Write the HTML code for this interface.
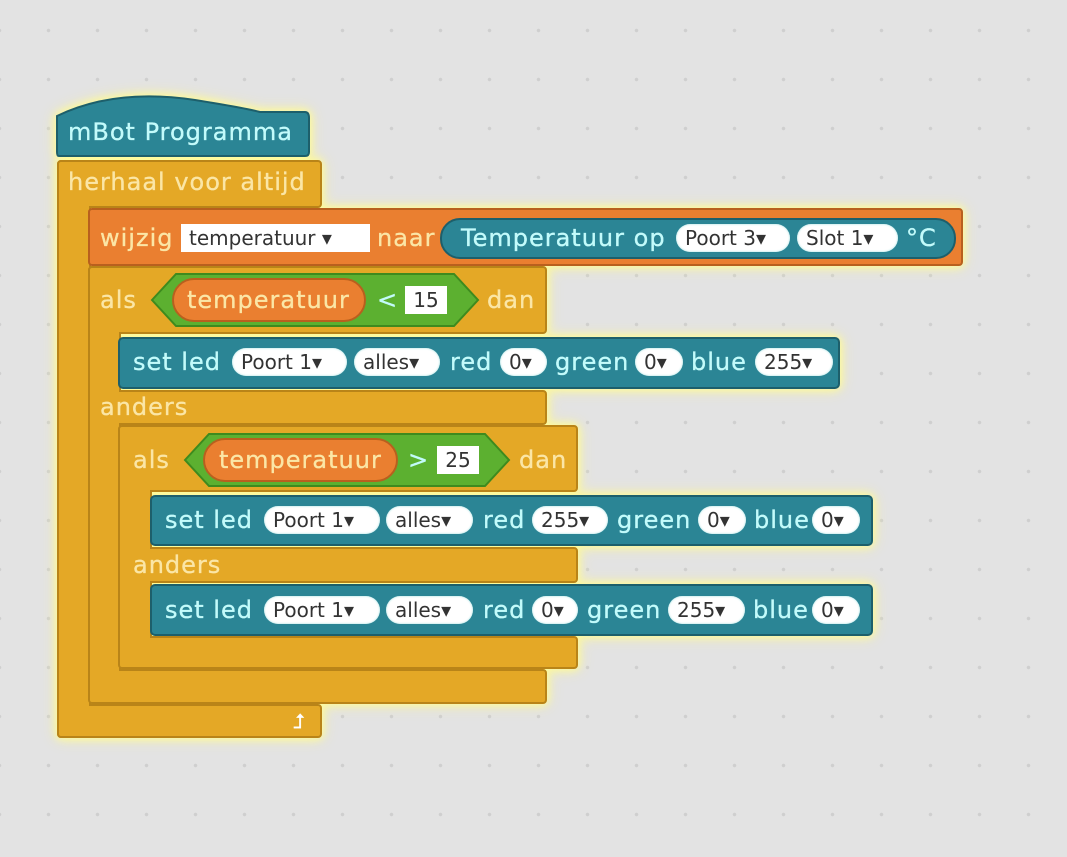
<!DOCTYPE html>
<html><head><meta charset="utf-8"><style>
*{margin:0;padding:0;box-sizing:border-box}
body{width:1067px;height:857px;overflow:hidden;background:#e3e3e3;font-family:"DejaVu Sans","Liberation Sans",sans-serif;position:relative}
.bg{position:absolute;inset:0;background-image:radial-gradient(circle,#cfcfcf 1.5px,transparent 2px);background-size:49px 49px;background-position:24px 6px}
.wrap{position:absolute;left:0;top:0;width:1067px;height:857px;filter:drop-shadow(0 0 4px #fffd9a) drop-shadow(0 0 6px #f8f2a0)}
.b{position:absolute}
.y{background:#e4a826;border:2px solid #b98418;border-radius:4px}
.o{background:#ea7f30;border:2px solid #b8601e;border-radius:4px}
.bl{background:#2b8595;border:2px solid #1d5f6b;border-radius:5px}
.t{position:absolute;font-size:24px;line-height:26px;white-space:nowrap;letter-spacing:1px;-webkit-text-stroke:0.3px currentColor}
.ty{color:#fbe6a6}
.tb{color:#c3fbfb}
.pill{position:absolute;background:#fff;border-radius:14px;color:#333;font-size:20px;line-height:28px;height:28px;padding-left:9px;white-space:nowrap;box-shadow:inset 0 0 2px #9dd;overflow:hidden}
.box{position:absolute;background:#fff;color:#333;font-size:20px;text-align:center;height:28px;line-height:28px;white-space:nowrap;overflow:hidden}
</style></head><body>
<div class="bg"></div>
<div class="wrap">
<div class="b y" style="left:57px;top:160px;width:34px;height:578px"></div>
<div class="b y" style="left:88px;top:266px;width:33px;height:438px"></div>
<div class="b y" style="left:118px;top:425px;width:34px;height:244px"></div>
<svg class="b" style="left:55px;top:94px" width="256" height="66"><path d="M2 22 Q60 -6 140 6 Q190 14 205 18 L250 18 Q254 18 254 24 L254 58 Q254 62 250 62 L4 62 Q2 62 2 58 Z" fill="#2b8595" stroke="#1d5f6b" stroke-width="2"/></svg>
<div class="t tb" style="left:68px;top:119px">mBot Programma</div>
<div class="b y" style="left:57px;top:160px;width:265px;height:48px;border-bottom-left-radius:0"></div>
<div class="b y" style="left:57px;top:704px;width:265px;height:34px"></div>
<div class="b" style="left:59px;top:200px;width:30px;height:10px;background:#e4a826"></div>
<div class="b" style="left:59px;top:700px;width:30px;height:8px;background:#e4a826"></div>
<div class="t ty" style="left:68px;top:169px">herhaal voor altijd</div>
<div class="t" style="left:293px;top:708px;color:#fff;font-size:20px">⮥</div>
<div class="b y" style="left:88px;top:266px;width:459px;height:68px"></div>
<div class="b y" style="left:88px;top:390px;width:459px;height:35px"></div>
<div class="b y" style="left:88px;top:669px;width:459px;height:35px"></div>
<div class="b" style="left:90px;top:325px;width:29px;height:14px;background:#e4a826"></div>
<div class="b" style="left:90px;top:385px;width:29px;height:44px;background:#e4a826"></div>
<div class="b" style="left:90px;top:664px;width:29px;height:10px;background:#e4a826"></div>
<div class="b y" style="left:118px;top:425px;width:460px;height:67px"></div>
<div class="b y" style="left:118px;top:547px;width:460px;height:36px"></div>
<div class="b y" style="left:118px;top:636px;width:460px;height:33px"></div>
<div class="b" style="left:120px;top:484px;width:30px;height:14px;background:#e4a826"></div>
<div class="b" style="left:120px;top:542px;width:30px;height:46px;background:#e4a826"></div>
<div class="b" style="left:120px;top:632px;width:30px;height:8px;background:#e4a826"></div>
<div class="b o" style="left:88px;top:208px;width:875px;height:58px"></div>
<div class="t ty" style="left:100px;top:225px">wijzig</div>
<div class="box" style="left:181px;top:224px;width:189px;text-align:left;padding-left:8px">temperatuur ▾</div>
<div class="t ty" style="left:377px;top:225px">naar</div>
<div class="b" style="left:440px;top:218px;width:516px;height:41px;background:#2b8595;border:2px solid #1d5f6b;border-radius:20px"></div>
<div class="t tb" style="left:461px;top:225px">Temperatuur op</div>
<div class="pill" style="left:676px;top:224px;width:114px">Poort 3▾</div>
<div class="pill" style="left:797px;top:224px;width:101px">Slot 1▾</div>
<div class="t tb" style="left:906px;top:225px">°C</div>
<div class="t ty" style="left:100px;top:287px">als</div>
<svg class="b" style="left:150px;top:272px" width="330" height="56"><polygon points="2,28 26,2 304,2 328,28 304,54 26,54" fill="#5cb030" stroke="#3e8a1e" stroke-width="2"/></svg>
<div class="b" style="left:172px;top:278px;width:194px;height:44px;background:#ea7f30;border:2px solid #b8601e;border-radius:22px"></div>
<div class="t ty" style="left:187px;top:287px">temperatuur</div>
<div class="t tb" style="left:377px;top:287px">&lt;</div>
<div class="box" style="left:405px;top:286px;width:42px">15</div>
<div class="t ty" style="left:487px;top:287px">dan</div>
<div class="b bl" style="left:118px;top:337px;width:722px;height:52px"></div>
<div class="t tb" style="left:133px;top:349px">set led</div>
<div class="pill" style="left:232px;top:348px;width:115px">Poort 1▾</div>
<div class="pill" style="left:354px;top:348px;width:86px">alles▾</div>
<div class="t tb" style="left:450px;top:349px">red</div>
<div class="pill" style="left:500px;top:348px;width:47px">0▾</div>
<div class="t tb" style="left:555px;top:349px">green</div>
<div class="pill" style="left:635px;top:348px;width:48px">0▾</div>
<div class="t tb" style="left:691px;top:349px">blue</div>
<div class="pill" style="left:755px;top:348px;width:78px">255▾</div>
<div class="t ty" style="left:100px;top:394px">anders</div>
<div class="t ty" style="left:133px;top:447px">als</div>
<svg class="b" style="left:183px;top:432px" width="330" height="56"><polygon points="2,28 26,2 302,2 326,28 302,54 26,54" fill="#5cb030" stroke="#3e8a1e" stroke-width="2"/></svg>
<div class="b" style="left:203px;top:438px;width:195px;height:44px;background:#ea7f30;border:2px solid #b8601e;border-radius:22px"></div>
<div class="t ty" style="left:219px;top:447px">temperatuur</div>
<div class="t tb" style="left:408px;top:447px">&gt;</div>
<div class="box" style="left:437px;top:446px;width:42px">25</div>
<div class="t ty" style="left:519px;top:447px">dan</div>
<div class="b bl" style="left:150px;top:495px;width:723px;height:51px"></div>
<div class="t tb" style="left:165px;top:507px">set led</div>
<div class="pill" style="left:264px;top:506px;width:116px">Poort 1▾</div>
<div class="pill" style="left:386px;top:506px;width:87px">alles▾</div>
<div class="t tb" style="left:483px;top:507px">red</div>
<div class="pill" style="left:532px;top:506px;width:76px">255▾</div>
<div class="t tb" style="left:617px;top:507px">green</div>
<div class="pill" style="left:698px;top:506px;width:48px">0▾</div>
<div class="t tb" style="left:754px;top:507px">blue</div>
<div class="pill" style="left:812px;top:506px;width:48px">0▾</div>
<div class="t ty" style="left:133px;top:552px">anders</div>
<div class="b bl" style="left:150px;top:584px;width:723px;height:52px"></div>
<div class="t tb" style="left:165px;top:597px">set led</div>
<div class="pill" style="left:264px;top:596px;width:116px">Poort 1▾</div>
<div class="pill" style="left:386px;top:596px;width:87px">alles▾</div>
<div class="t tb" style="left:483px;top:597px">red</div>
<div class="pill" style="left:532px;top:596px;width:46px">0▾</div>
<div class="t tb" style="left:587px;top:597px">green</div>
<div class="pill" style="left:668px;top:596px;width:77px">255▾</div>
<div class="t tb" style="left:753px;top:597px">blue</div>
<div class="pill" style="left:812px;top:596px;width:48px">0▾</div>
</div>
</body></html>
